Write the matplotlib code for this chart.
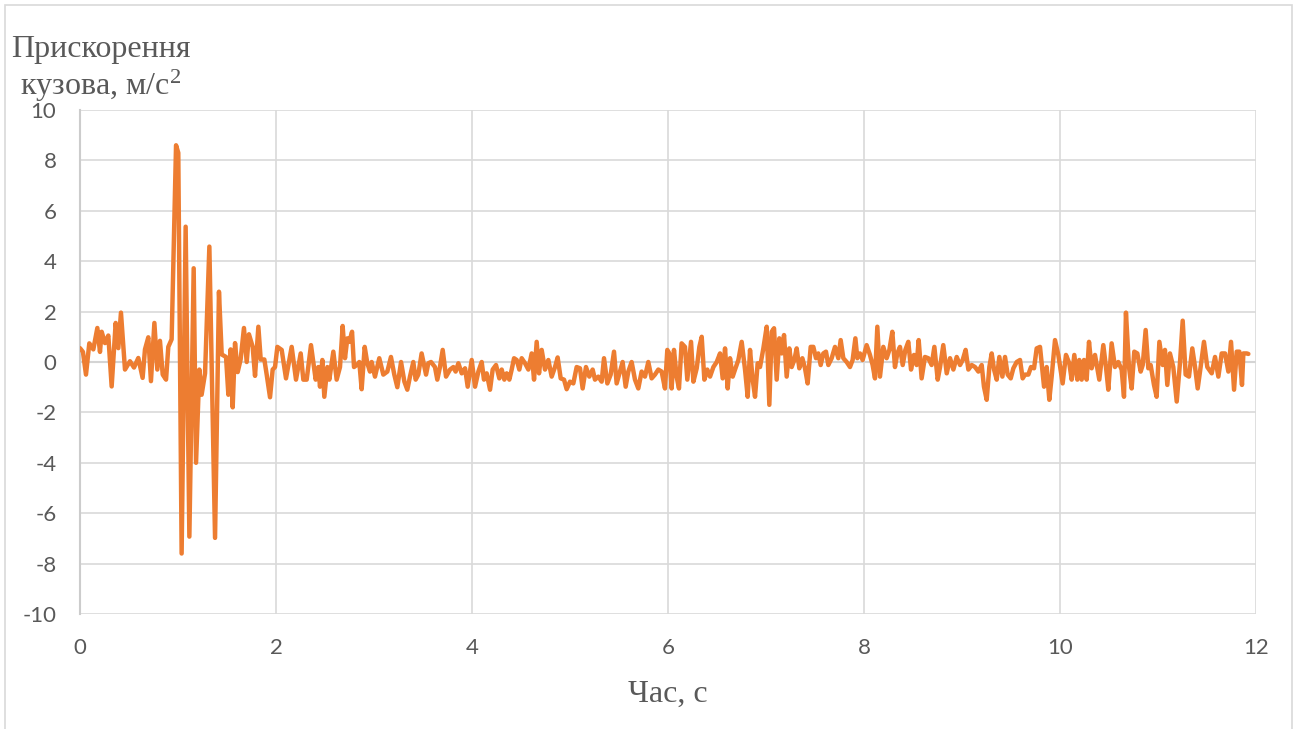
import numpy as np
import matplotlib
matplotlib.use("Agg")
import matplotlib.pyplot as plt
from matplotlib.patches import Rectangle

plt.rcParams["axes.unicode_minus"] = False
plt.rcParams["mathtext.fontset"] = "custom"
plt.rcParams["mathtext.rm"] = "Liberation Serif"
plt.rcParams["mathtext.it"] = "Liberation Serif:italic"

# time (s) and body acceleration (m/s^2) in pieces
t_part1 = [0.0, 0.03, 0.061, 0.095, 0.136, 0.177, 0.204, 0.221, 0.255, 0.289,
           0.323, 0.364, 0.391, 0.418, 0.459, 0.510, 0.551, 0.595, 0.639, 0.663,
           0.697, 0.724, 0.759, 0.789, 0.816, 0.844, 0.878, 0.901, 0.935, 0.980,
           1.003, 1.037, 1.078, 1.116, 1.160, 1.184, 1.218, 1.241, 1.276, 1.320,
           1.378, 1.418, 1.446, 1.490, 1.514, 1.537, 1.558, 1.582, 1.609, 1.639,
           1.673, 1.701, 1.724, 1.762, 1.786, 1.820, 1.844, 1.881, 1.905, 1.939,
           1.966, 1.990]
a_part1 = [0.55, 0.4, -0.5, 0.74, 0.5, 1.35, 0.4, 1.2, 0.75, 1.05,
           -0.97, 1.55, 0.55, 1.96, -0.3, 0.03, -0.22, 0.16, -0.63, 0.5,
           0.98, -0.76, 1.55, -0.3, 0.84, -0.5, -0.7, 0.6, 0.9, 8.6,
           8.3, -7.6, 5.37, -6.93, 3.72, -4.0, -0.3, -1.3, -0.45, 4.58,
           -6.98, 2.79, 0.3, 0.2, -1.3, 0.5, -1.8, 0.75, -0.4, 0.1,
           1.35, 0.0, 1.1, 0.6, -0.55, 1.4, 0.1, 0.1, -0.5, -1.4,
           -0.3, -0.2]

t_part2 = [2.014, 2.058, 2.102, 2.160, 2.204, 2.252, 2.279, 2.313, 2.357, 2.405,
           2.432, 2.449, 2.473, 2.493, 2.524, 2.544, 2.585, 2.619, 2.653, 2.680,
           2.704, 2.728, 2.748, 2.776, 2.796, 2.830, 2.850, 2.874, 2.905, 2.932,
           2.959, 2.976, 3.010, 3.054, 3.095, 3.136, 3.173, 3.207, 3.238, 3.276,
           3.310, 3.340, 3.367, 3.401, 3.425, 3.452, 3.486, 3.531, 3.554, 3.582,
           3.622, 3.646, 3.673, 3.701, 3.735, 3.776, 3.810, 3.833, 3.861, 3.895,
           3.929, 3.956]
a_part2 = [0.6, 0.48, -0.65, 0.6, -0.7, 0.34, -0.7, -0.7, 0.67, -0.7,
           -0.2, -0.98, 0.08, -1.38, -0.2, -0.7, 0.41, -0.7, -0.2, 1.43,
           0.15, 0.94, 0.8, 1.2, -0.2, -0.1, 0.0, -1.08, 0.6, -0.05,
           -0.38, 0.0, -0.58, 0.15, -0.5, -0.38, 0.2, -0.5, -1.0, 0.0,
           -0.78, -1.1, -0.58, 0.0, -0.7, -0.5, 0.34, -0.5, -0.05, 0.0,
           -0.2, -0.7, -0.2, 0.48, -0.58, -0.3, -0.2, -0.38, -0.05, -0.45,
           -0.25, -0.98]

t_part3 = [3.997, 4.031, 4.065, 4.099, 4.122, 4.150, 4.184, 4.211, 4.245, 4.279,
           4.303, 4.330, 4.354, 4.381, 4.405, 4.429, 4.456, 4.483, 4.507, 4.541,
           4.575, 4.609, 4.633, 4.660, 4.684, 4.711, 4.745, 4.779, 4.813, 4.847,
           4.874, 4.905, 4.939, 4.966, 5.000, 5.034, 5.068, 5.102, 5.129, 5.163,
           5.197, 5.231, 5.255, 5.289, 5.323, 5.347, 5.381, 5.415, 5.449, 5.476,
           5.510, 5.537, 5.568, 5.595, 5.629, 5.663, 5.697, 5.731, 5.765, 5.799,
           5.833, 5.867]
a_part3 = [0.08, -0.98, -0.38, 0.0, -0.7, -0.45, -1.1, -0.3, -0.12, -0.65,
           -0.3, -0.7, -0.45, -0.7, -0.3, 0.15, 0.08, -0.3, 0.15, -0.05,
           -0.3, 0.34, -0.7, 0.8, -0.45, 0.48, -0.3, 0.08, -0.58, -0.2,
           0.18, -0.65, -0.7, -1.08, -0.78, -0.85, -0.2, -0.25, -1.05, -0.2,
           -0.58, -0.3, -0.7, -0.58, -0.78, 0.15, -0.85, -0.5, 0.41, -0.85,
           -0.38, 0.0, -0.98, -0.38, 0.0, -0.7, -1.05, -0.38, -0.58, 0.0,
           -0.65, -0.5]

t_part4 = [5.901, 5.935, 5.969, 5.993, 6.014, 6.037, 6.061, 6.088, 6.112, 6.139,
           6.173, 6.197, 6.235, 6.259, 6.293, 6.320, 6.344, 6.371, 6.401, 6.429,
           6.463, 6.497, 6.531, 6.558, 6.582, 6.609, 6.633, 6.660, 6.684, 6.718,
           6.752, 6.786, 6.813, 6.837, 6.864, 6.888, 6.915, 6.939, 6.973, 7.007,
           7.034, 7.058, 7.082, 7.109, 7.136, 7.160, 7.184, 7.211, 7.238, 7.262,
           7.289, 7.313, 7.340, 7.371, 7.398, 7.425, 7.456, 7.483, 7.510, 7.534,
           7.558, 7.585, 7.612, 7.636, 7.670, 7.704, 7.738, 7.762, 7.789, 7.823,
           7.857]
a_part4 = [-0.3, -0.38, -1.05, 0.48, 0.34, -1.05, 0.48, -0.58, -1.05, 0.74,
           0.6, -0.7, 0.8, -0.78, -0.25, 0.6, 1.0, -0.7, -0.3, -0.58,
           -0.2, 0.0, 0.34, -0.65, 0.54, -1.05, 0.15, -0.58, -0.3, 0.08,
           0.8, -0.3, -1.38, 0.48, -0.7, -1.38, -0.05, -0.2, 0.54, 1.4,
           -1.7, 1.2, 1.34, -0.7, 0.94, 0.34, 1.07, -0.58, 0.54, -0.2,
           0.08, 0.54, -0.25, 0.15, -0.25, -0.85, 0.6, 0.6, 0.15, 0.34,
           -0.12, 0.34, 0.41, -0.12, 0.15, 0.6, 0.15, 0.87, 0.15, 0.0,
           -0.2]

t_part5 = [7.884, 7.912, 7.932, 7.959, 7.986, 8.027, 8.061, 8.088, 8.112, 8.136,
           8.163, 8.197, 8.231, 8.259, 8.289, 8.316, 8.340, 8.367, 8.395, 8.422,
           8.452, 8.480, 8.510, 8.537, 8.558, 8.588, 8.622, 8.656, 8.690, 8.718,
           8.752, 8.776, 8.809, 8.844, 8.878, 8.912, 8.946, 8.980, 9.007, 9.037,
           9.065, 9.099, 9.133, 9.167, 9.201, 9.224, 9.252, 9.279, 9.303, 9.327,
           9.354, 9.381, 9.412, 9.439, 9.466, 9.497, 9.524, 9.558, 9.592, 9.619,
           9.643, 9.677, 9.704, 9.735, 9.762, 9.796]
a_part5 = [0.08, 0.94, 0.15, 0.34, 0.08, 0.67, 0.28, -0.12, -0.65, 1.4,
           -0.58, 0.6, 0.15, 0.48, 1.2, -0.2, 0.34, 0.6, -0.12, 0.48,
           0.8, -0.3, 0.28, -0.12, 0.87, -0.65, 0.2, 0.15, -0.12, 0.6,
           -0.7, -0.2, 0.67, -0.45, 0.15, -0.3, 0.2, -0.12, 0.08, 0.48,
           -0.3, -0.12, -0.2, -0.38, -0.12, -0.98, -1.5, -0.2, 0.34, -0.3,
           -0.7, 0.2, -0.58, 0.2, -0.5, -0.65, -0.25, 0.0, 0.08, -0.65,
           -0.5, -0.5, -0.2, -0.25, 0.54, 0.6]

t_part6 = [9.837, 9.864, 9.891, 9.915, 9.949, 9.983, 10.027, 10.061, 10.095, 10.119,
           10.146, 10.177, 10.197, 10.221, 10.245, 10.272, 10.296, 10.323, 10.357, 10.401,
           10.442, 10.469, 10.493, 10.527, 10.561, 10.595, 10.629, 10.653, 10.673, 10.704,
           10.731, 10.758, 10.789, 10.823, 10.844, 10.874, 10.901, 10.925, 10.959, 10.986,
           11.014, 11.048, 11.071, 11.095, 11.122, 11.156, 11.191, 11.224, 11.252, 11.282,
           11.316, 11.350, 11.378, 11.405, 11.435, 11.469, 11.503, 11.548, 11.582, 11.616,
           11.650, 11.684, 11.718, 11.745, 11.776, 11.803, 11.830, 11.857, 11.871, 11.905,
           11.922]
a_part6 = [-0.98, -0.2, -1.5, -0.58, 0.87, 0.28, -0.85, 0.28, -0.05, -0.7,
           0.28, -0.7, 0.08, -0.7, 0.08, -0.7, 0.8, -0.25, 0.28, -0.7,
           0.67, -0.2, -1.1, 0.74, -0.2, 0.0, -0.3, -1.38, 1.96, -0.2,
           -1.05, 0.41, 0.34, -0.38, -0.12, 1.27, -0.25, -0.12, -0.91, -1.38,
           0.8, -0.12, 0.48, -0.91, 0.34, -0.2, -1.57, -0.05, 1.64, -0.5,
           -0.58, 0.54, -0.2, -1.05, -0.2, 0.8, -0.2, -0.45, 0.2, -0.58,
           0.34, 0.34, -0.38, 0.8, -1.1, 0.41, 0.41, -0.91, 0.34, 0.34,
           0.32]

x_ticks = [0, 2, 4, 6, 8, 10, 12]
y_ticks = [-10, -8, -6, -4, -2, 0, 2, 4, 6, 8, 10]

y_title_1 = "Прискорення"
y_title_2 = "кузова, м/с$^2$"
x_title = "Час, с"

GREY_TEXT = "#595959"
GRID = "#d9d9d9"
ORANGE = "#ED7D31"
W, H = 1296, 729

t_parts = [t_part1, t_part2, t_part3, t_part4, t_part5, t_part6]
a_parts = [a_part1, a_part2, a_part3, a_part4, a_part5, a_part6]
for i, (tp, ap) in enumerate(zip(t_parts, a_parts)):
    assert len(tp) == len(ap), f"part {i+1}: {len(tp)} vs {len(ap)}"

time = np.concatenate(t_parts)
accel = np.concatenate(a_parts)

fig = plt.figure(figsize=(W / 100, H / 100), dpi=100)
ax = fig.add_axes([80 / W, 1 - 614 / H, 1176 / W, 504 / H])

ax.plot(time, accel, color=ORANGE, lw=3.2, solid_joinstyle="round",
        solid_capstyle="round", zorder=3)

ax.set_xlim(0, 12)
ax.set_ylim(-10, 10)
ax.set_xticks(x_ticks)
ax.set_yticks(y_ticks)
ax.grid(True, color=GRID, lw=1.2, zorder=0)
ax.axhline(0, color="#bfbfbf", lw=1.5, zorder=1)

for side in ["top", "right", "bottom"]:
    ax.spines[side].set_visible(False)
ax.spines["left"].set_color("#cccccc")
ax.spines["left"].set_linewidth(1.5)

ax.tick_params(length=0, labelsize=16, labelcolor=GREY_TEXT)
ax.tick_params(axis="y", pad=17)
ax.tick_params(axis="x", pad=17)
for lab in ax.get_xticklabels() + ax.get_yticklabels():
    lab.set_family("Lato")

# axis titles in serif, like the original
title_kw = dict(fontsize=23, family="Liberation Serif", color=GREY_TEXT,
                ha="center", va="baseline")
fig.text(101 / W, 1 - 57 / H, y_title_1, **title_kw)
fig.text(101 / W, 1 - 95 / H, y_title_2, **title_kw)
fig.text(668 / W, 1 - 702 / H, x_title, **title_kw)

# chart area border
fig.patches.append(Rectangle((4.5 / W, -0.01), 1287 / W, 1 - 4.5 / H + 0.01,
                             transform=fig.transFigure, fill=False,
                             edgecolor=GRID, lw=1.2))

fig.savefig("out.png", dpi=100)
